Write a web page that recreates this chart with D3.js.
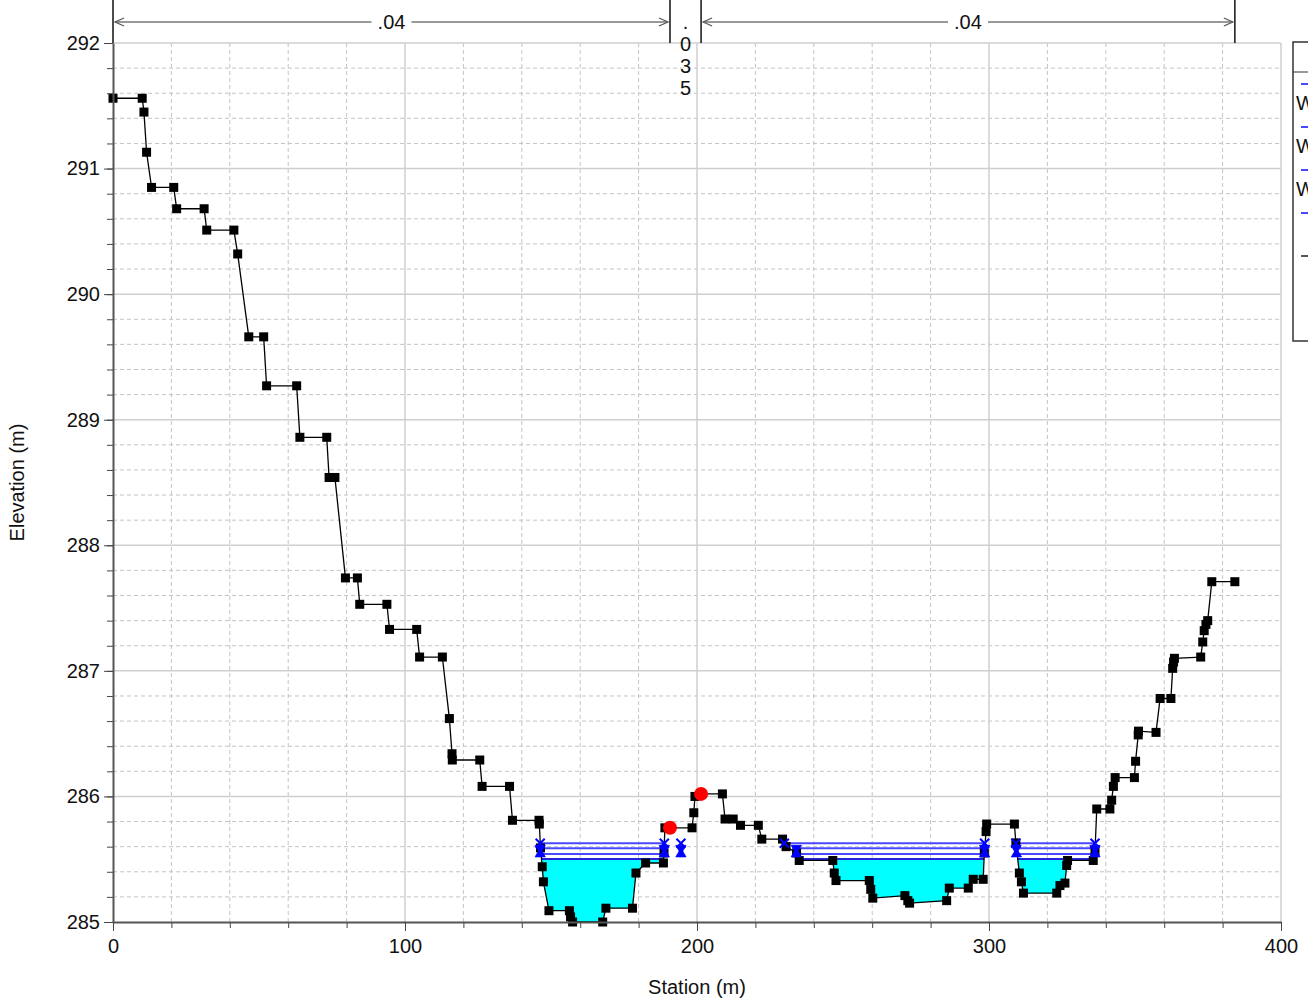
<!DOCTYPE html>
<html>
<head>
<meta charset="utf-8">
<script src="https://cdn.jsdelivr.net/npm/d3@7"></script>
<style>
  body { margin: 0; background: #fff; }
  svg { display: block; font-family: "Liberation Sans", Arial, sans-serif; }
</style>
</head>
<body>
<script>

// ground profile, station (m)
const stations = [
  0, 10.0, 10.6, 11.5, 13.2, 20.8, 21.8, 31.2, 32.1, 41.4,
  42.7, 46.5, 51.6, 52.6, 62.9, 64.0, 73.2, 74.0, 76.0, 79.6,
  83.7, 84.5, 93.8, 94.7, 104.0, 105.0, 112.8, 115.2, 116.1, 116.2,
  125.6, 126.4, 135.8, 136.8, 145.9, 146.0, 146.4, 147.0, 147.4, 149.3,
  156.3, 156.7, 157.4, 167.7, 168.8, 177.9, 179.1, 182.4, 188.5, 188.7,
  189.0, 198.3, 198.9, 199.3, 201.4, 208.7, 209.6, 212.4, 214.9, 221.0,
  222.2, 229.3, 230.5, 234.1, 235.0, 246.5, 247.0, 247.6, 259.0, 259.5,
  260.2, 271.2, 272.2, 272.8, 285.5, 286.4, 292.9, 294.6, 298.0, 298.4,
  299.0, 299.2, 308.7, 309.2, 310.4, 311.1, 311.8, 323.2, 324.3, 326.0,
  326.6, 326.9, 335.7, 336.3, 336.9, 341.4, 342.0, 342.6, 343.2, 349.8,
  350.2, 351.1, 351.2, 357.2, 358.6, 362.3, 362.9, 363.2, 363.5, 372.5,
  373.2, 373.7, 374.3, 374.9, 376.3, 384.2
];

// ground profile, elevation (m)
const elevations = [
  291.56, 291.56, 291.45, 291.13, 290.85, 290.85, 290.68, 290.68, 290.51, 290.51,
  290.32, 289.66, 289.66, 289.27, 289.27, 288.86, 288.86, 288.54, 288.54, 287.74,
  287.74, 287.53, 287.53, 287.33, 287.33, 287.11, 287.11, 286.62, 286.34, 286.29,
  286.29, 286.08, 286.08, 285.81, 285.81, 285.78, 285.59, 285.44, 285.32, 285.09,
  285.09, 285.04, 285.00, 285.00, 285.11, 285.11, 285.39, 285.47, 285.47, 285.55,
  285.75, 285.75, 285.87, 286.00, 286.02, 286.02, 285.82, 285.82, 285.77, 285.77,
  285.66, 285.66, 285.60, 285.55, 285.49, 285.49, 285.39, 285.33, 285.33, 285.26,
  285.19, 285.21, 285.17, 285.15, 285.17, 285.27, 285.27, 285.34, 285.34, 285.55,
  285.72, 285.78, 285.78, 285.63, 285.39, 285.32, 285.23, 285.23, 285.29, 285.31,
  285.45, 285.49, 285.49, 285.56, 285.90, 285.90, 285.97, 286.08, 286.15, 286.15,
  286.28, 286.49, 286.52, 286.51, 286.78, 286.78, 287.02, 287.07, 287.10, 287.11,
  287.23, 287.32, 287.37, 287.40, 287.71, 287.71
];

// bank stations (red dots)
const bankStations = [190.75, 201.4];
const bankElevations = [285.75, 286.02];

// manning's n regions
const nStarts = [0, 190.75, 201.4];
const nEnds = [190.75, 201.4, 384.2];
const nLabels = [".04", ".035", ".04"];

// water surfaces, highest first
const wsNames = ["WS PF 4", "WS PF 3", "WS PF 2", "WS PF 1"];
const wsElevations = [285.627, 285.587, 285.542, 285.502];
// wet extents per profile (station pairs)
const wsExtents = [
  [[146.3, 188.8], [229.9, 298.5], [309.2, 336.3]],
  [[146.3, 188.8], [234.0, 298.5], [309.3, 336.3]],
  [[146.3, 188.8], [234.0, 298.5], [309.4, 336.3]],
  [[146.6, 188.6], [234.8, 298.3], [309.8, 336.1]]
];
const wsExtraMarks = [194.5];

const xTicks = [0, 100, 200, 300, 400];
const yTicks = [285, 286, 287, 288, 289, 290, 291, 292];

const width = 1308, height = 1002;
const margin = { left: 113, right: 1281, top: 43, bottom: 922 };

function groundAt(s) {
  for (let i = 1; i < stations.length; i++) {
    if (s <= stations[i]) {
      const t = (s - stations[i - 1]) / (stations[i] - stations[i - 1]);
      return elevations[i - 1] + t * (elevations[i] - elevations[i - 1]);
    }
  }
  return elevations[elevations.length - 1];
}

function drawGrid(svg, x, y) {
  const g = svg.append("g").attr("class", "grid");

  // minor dashed lines
  g.selectAll("line.vminor")
    .data(d3.range(0, 401, 20).filter(d => d % 100 !== 0))
    .join("line")
    .attr("class", "vminor")
    .attr("x1", d => x(d)).attr("x2", d => x(d))
    .attr("y1", margin.top).attr("y2", margin.bottom)
    .attr("stroke", "#c4c4c4").attr("stroke-dasharray", "4,3");

  g.selectAll("line.hminor")
    .data(d3.range(0, 35).map(i => 285 + i * 0.2).filter((d, i) => i % 5 !== 0))
    .join("line")
    .attr("class", "hminor")
    .attr("x1", margin.left).attr("x2", margin.right)
    .attr("y1", d => y(d)).attr("y2", d => y(d))
    .attr("stroke", "#c4c4c4").attr("stroke-dasharray", "4,3");

  // major solid lines
  g.selectAll("line.vmajor")
    .data(xTicks.slice(1))
    .join("line")
    .attr("class", "vmajor")
    .attr("x1", d => x(d)).attr("x2", d => x(d))
    .attr("y1", margin.top).attr("y2", margin.bottom)
    .attr("stroke", "#cfcfcf").attr("stroke-width", 1.5);

  g.selectAll("line.hmajor")
    .data(yTicks.slice(1))
    .join("line")
    .attr("class", "hmajor")
    .attr("x1", margin.left).attr("x2", margin.right)
    .attr("y1", d => y(d)).attr("y2", d => y(d))
    .attr("stroke", "#cfcfcf").attr("stroke-width", 1.5);
}

function drawAxes(svg, x, y) {
  const font = 20;

  const xMinor = svg.append("g")
    .attr("transform", `translate(0,${margin.bottom})`)
    .call(d3.axisBottom(x).tickValues(d3.range(20, 400, 20)).tickSize(6).tickSizeOuter(0).tickFormat(""));
  xMinor.select(".domain").remove();

  const xAxis = svg.append("g")
    .attr("transform", `translate(0,${margin.bottom})`)
    .call(d3.axisBottom(x).tickValues(xTicks).tickSize(9).tickSizeOuter(0).tickFormat(d3.format("d")));
  xAxis.select(".domain").attr("stroke", "#555").attr("stroke-width", 2);

  const yMinor = svg.append("g")
    .attr("transform", `translate(${margin.left},0)`)
    .call(d3.axisLeft(y).tickValues(d3.range(0, 35).map(i => 285 + i * 0.2)).tickSize(6).tickSizeOuter(0).tickFormat(""));
  yMinor.select(".domain").remove();

  const yAxis = svg.append("g")
    .attr("transform", `translate(${margin.left},0)`)
    .call(d3.axisLeft(y).tickValues(yTicks).tickSize(9).tickSizeOuter(0).tickFormat(d3.format("d")));
  yAxis.select(".domain").attr("stroke", "#555").attr("stroke-width", 2);

  svg.selectAll(".tick line").attr("stroke", "#444");
  svg.selectAll(".tick text")
    .attr("font-size", font)
    .attr("font-family", "Liberation Sans, Arial, sans-serif")
    .attr("fill", "#111");
  xAxis.selectAll(".tick text").attr("dy", "0.95em");
  yAxis.selectAll(".tick text").attr("dx", "-0.05em");

  svg.append("text")
    .attr("x", (margin.left + margin.right) / 2)
    .attr("y", 994)
    .attr("text-anchor", "middle")
    .attr("font-size", font)
    .attr("fill", "#111")
    .text("Station (m)");

  svg.append("text")
    .attr("transform", `translate(24,${(margin.top + margin.bottom) / 2}) rotate(-90)`)
    .attr("text-anchor", "middle")
    .attr("font-size", font)
    .attr("fill", "#111")
    .text("Elevation (m)");
}

function drawManningN(svg, x) {
  const g = svg.append("g").attr("class", "nvalues");
  const yLine = 22;

  // boundaries
  const bounds = [nStarts[0]].concat(nEnds);
  g.selectAll("line.nbound")
    .data(bounds)
    .join("line")
    .attr("x1", d => x(d)).attr("x2", d => x(d))
    .attr("y1", 0).attr("y2", margin.top)
    .attr("stroke", "#111").attr("stroke-width", 1.5);

  nLabels.forEach((label, i) => {
    const x1 = x(nStarts[i]), x2 = x(nEnds[i]);
    const mid = (x1 + x2) / 2;

    if (x2 - x1 < 60) {
      // too narrow, write the value top to bottom
      const t = g.append("text")
        .attr("text-anchor", "middle")
        .attr("font-size", 20)
        .attr("fill", "#111");
      label.split("").forEach((ch, k) => {
        t.append("tspan").attr("x", mid).attr("y", 29 + k * 22).text(ch);
      });
      return;
    }

    const half = 20;
    g.append("line")
      .attr("x1", x1 + 2).attr("x2", mid - half)
      .attr("y1", yLine).attr("y2", yLine)
      .attr("stroke", "#777").attr("stroke-width", 1.5);
    g.append("line")
      .attr("x1", mid + half).attr("x2", x2 - 2)
      .attr("y1", yLine).attr("y2", yLine)
      .attr("stroke", "#777").attr("stroke-width", 1.5);

    // open arrow heads
    g.append("path")
      .attr("d", `M${x1 + 11},${yLine - 4}L${x1 + 2},${yLine}L${x1 + 11},${yLine + 4}`)
      .attr("fill", "none").attr("stroke", "#555").attr("stroke-width", 1.2);
    g.append("path")
      .attr("d", `M${x2 - 11},${yLine - 4}L${x2 - 2},${yLine}L${x2 - 11},${yLine + 4}`)
      .attr("fill", "none").attr("stroke", "#555").attr("stroke-width", 1.2);

    g.append("text")
      .attr("x", mid).attr("y", yLine + 7)
      .attr("text-anchor", "middle")
      .attr("font-size", 20)
      .attr("fill", "#111")
      .text(label);
  });
}

function drawWater(svg, x, y) {
  const g = svg.append("g").attr("class", "water");

  // cyan fill under the lowest surface
  const low = wsElevations.length - 1;
  const ws = wsElevations[low];
  wsExtents[low].forEach(([a, b]) => {
    const pts = [[a, groundAt(a)]]
      .concat(stations.map((s, i) => [s, elevations[i]]).filter(p => p[0] > a && p[0] < b))
      .concat([[b, groundAt(b)]]);
    const area = d3.area()
      .x(d => x(d[0]))
      .y0(y(ws))
      .y1(d => y(Math.min(d[1], ws)));
    g.append("path")
      .datum(pts)
      .attr("d", area)
      .attr("fill", "#00ffff");
  });

  // surface lines
  wsElevations.forEach((e, i) => {
    g.selectAll(`line.ws${i}`)
      .data(wsExtents[i])
      .join("line")
      .attr("class", `ws${i}`)
      .attr("x1", d => x(d[0])).attr("x2", d => x(d[1]))
      .attr("y1", y(e)).attr("y2", y(e))
      .attr("stroke", i === low ? "#2626d9" : "#4848ff")
      .attr("stroke-width", 2);
  });
}

function drawWsMarkers(svg, x, y) {
  const g = svg.append("g").attr("class", "wsmarks");
  const blue = "#0000ff";
  const symbols = [d3.symbolX, d3.symbolTriangle, d3.symbolTriangle, d3.symbolSquare];
  const rotations = [0, 180, 0, 0];
  const sizes = [55, 45, 45, 0];

  wsElevations.forEach((e, i) => {
    const ends = wsExtents[i].flat();
    if (i < 3) ends.push(...wsExtraMarks);
    const sym = d3.symbol().type(symbols[i]).size(sizes[i]);
    g.selectAll(`path.m${i}`)
      .data(sizes[i] ? ends : [])
      .join("path")
      .attr("class", `m${i}`)
      .attr("transform", d => `translate(${x(d)},${y(e)}) rotate(${rotations[i]})`)
      .attr("d", sym)
      .attr("fill", i === 0 ? "none" : blue)
      .attr("stroke", blue)
      .attr("stroke-width", i === 0 ? 2 : 0.8);
  });
}

function drawGround(svg, x, y) {
  const g = svg.append("g").attr("class", "ground");
  const pts = stations.map((s, i) => ({ s: s, e: elevations[i] }));

  g.append("path")
    .datum(pts)
    .attr("d", d3.line().x(d => x(d.s)).y(d => y(d.e)))
    .attr("fill", "none")
    .attr("stroke", "#000")
    .attr("stroke-width", 1.3);

  const size = 9;
  g.selectAll("rect.pt")
    .data(pts)
    .join("rect")
    .attr("class", "pt")
    .attr("x", d => x(d.s) - size / 2)
    .attr("y", d => y(d.e) - size / 2)
    .attr("width", size)
    .attr("height", size)
    .attr("fill", "#000");
}

function drawBanks(svg, x, y) {
  svg.append("g")
    .selectAll("circle")
    .data(bankStations)
    .join("circle")
    .attr("cx", d => x(d))
    .attr("cy", (d, i) => y(bankElevations[i]))
    .attr("r", 7)
    .attr("fill", "#ff0000");
}

function drawLegend(svg) {
  const g = svg.append("g").attr("class", "legend");
  const lx = 1293, ly = 42;

  g.append("rect")
    .attr("x", lx).attr("y", ly)
    .attr("width", 120).attr("height", 299)
    .attr("fill", "#fff").attr("stroke", "#333").attr("stroke-width", 1.5);
  g.append("line")
    .attr("x1", lx).attr("x2", lx + 120)
    .attr("y1", 72).attr("y2", 72)
    .attr("stroke", "#333").attr("stroke-width", 1.2);

  const names = wsNames.concat(["Ground"]);
  const colors = ["#4848ff", "#4848ff", "#4848ff", "#4848ff", "#555"];
  names.forEach((name, i) => {
    const yy = 84 + i * 43;
    g.append("line")
      .attr("x1", lx + 8).attr("x2", lx + 30)
      .attr("y1", yy).attr("y2", yy)
      .attr("stroke", colors[i]).attr("stroke-width", 2);
    if (i < 3) {
      g.append("text")
        .attr("x", lx + 3).attr("y", yy + 26)
        .attr("font-size", 20)
        .attr("fill", "#111")
        .text(name);
    }
  });
}

function createSVG() {
  const svg = d3.select("body")
    .append("svg")
    .attr("width", width)
    .attr("height", height);

  const x = d3.scaleLinear().domain([0, 400]).range([margin.left, margin.right]);
  const y = d3.scaleLinear().domain([285, 292]).range([margin.bottom, margin.top]);

  drawGrid(svg, x, y);
  drawWater(svg, x, y);
  drawGround(svg, x, y);
  drawWsMarkers(svg, x, y);
  drawBanks(svg, x, y);
  drawAxes(svg, x, y);
  drawManningN(svg, x);
  drawLegend(svg);
}

createSVG();
</script>
</body>
</html>
